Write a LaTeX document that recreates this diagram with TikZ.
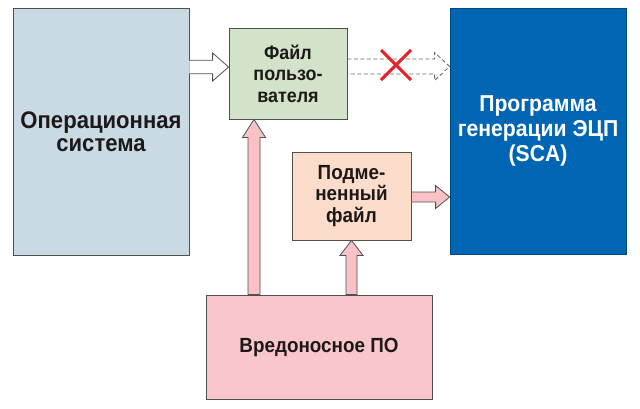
\documentclass[tikz,border=0pt]{standalone}
\usepackage{fontspec}
\setmainfont{Liberation Sans}[FakeStretch=0.92]
\usetikzlibrary{calc,shapes.misc}
\definecolor{osfill}{RGB}{201,218,228}
\definecolor{filefill}{RGB}{211,227,201}
\definecolor{scafill}{RGB}{0,101,178}
\definecolor{subfill}{RGB}{252,221,204}
\definecolor{malfill}{RGB}{248,198,203}
\definecolor{arrfill}{RGB}{248,194,198}
\definecolor{edge}{RGB}{80,80,80}
\definecolor{txt}{RGB}{30,25,25}
\definecolor{xred}{RGB}{232,32,42}
\tikzset{
  box/.style={draw=edge, line width=0.8pt, rectangle, inner sep=0pt, align=center, text=txt},
  pinkarrow/.style={draw=edge, line width=0.8pt, fill=arrfill, line join=miter},
  hollowarrow/.style={draw=edge, line width=0.8pt, fill=white},
  dasharrow/.style={draw=gray!80!black, line width=0.8pt, dash pattern=on 4pt off 2.5pt},
}
\begin{document}
\begin{tikzpicture}[x=1pt,y=-1pt]
\fill[white] (0,0) rectangle (640,408);
\useasboundingbox (0,0) rectangle (640,408);
% boxes
\node[box, fill=osfill, minimum width=176pt, minimum height=247pt,
      font=\bfseries\fontsize{24}{23}\selectfont] (os) at (101,131.5) {Операционная\\система};
\node[box, fill=filefill, minimum width=118pt, minimum height=91pt,
      font=\bfseries\fontsize{19.5}{21.5}\selectfont] (file) at (288,73.5) {Файл\\пользо-\\вателя};
\node[box, draw=scafill!70!black, fill=scafill, text=white, minimum width=176pt, minimum height=246pt,
      font=\bfseries\fontsize{23}{25}\selectfont] (sca) at (538,131) {Программа\\генерации ЭЦП\\(SCA)};
\node[box, fill=subfill, minimum width=119pt, minimum height=88pt,
      font=\bfseries\fontsize{20.5}{21.5}\selectfont] (sub) at (351.5,196) {Подме-\\ненный\\файл};
\node[box, fill=malfill, minimum width=226pt, minimum height=104pt,
      font=\bfseries\fontsize{20.5}{24}\selectfont] (mal) at (319,347) {Вредоносное ПО};
% arrow end points
\coordinate (h1s) at (os.east |- 0,67);
\coordinate (h1t) at (file.west |- 0,67);
\coordinate (d1s) at (file.east |- 0,66.5);
\coordinate (d1t) at (sca.west |- 0,66.5);
\coordinate (p1s) at (sub.east |- 0,197);
\coordinate (p1t) at (sca.west |- 0,197);
\coordinate (u1s) at (mal.north -| 254,0);
\coordinate (u1t) at (file.south -| 254,0);
\coordinate (u2s) at (mal.north -| 351.5,0);
\coordinate (u2t) at (sub.south -| 351.5,0);
% hollow arrow OS -> file
\draw[hollowarrow] (h1s) ++(0,-6.75) -- ($(h1t)+(-16,-6.75)$) -- ($(h1t)+(-16,-14)$) -- (h1t)
  -- ($(h1t)+(-16,14)$) -- ($(h1t)+(-16,6.75)$) -- ($(h1s)+(0,6.75)$);
% dashed arrow file -> SCA
\draw[dasharrow] ($(d1s)+(0,-7.5)$) -- ($(d1t)+(-15,-7.5)$) -- ($(d1t)+(-15,-14)$) -- (d1t)
  -- ($(d1t)+(-15,14)$) -- ($(d1t)+(-15,7.5)$) -- ($(d1s)+(0,7.5)$);
\node[cross out, draw=xred, line width=3pt, minimum size=27pt, inner sep=0pt] (cross) at (396,65) {};
% pink arrow sub -> SCA
\draw[pinkarrow] (p1s) ++(0,-5) -- ($(p1t)+(-14,-5)$) -- ($(p1t)+(-14,-11.5)$) -- (p1t)
  -- ($(p1t)+(-14,11.5)$) -- ($(p1t)+(-14,5)$) -- ($(p1s)+(0,5)$) -- cycle;
% up arrow mal -> file
\draw[pinkarrow] (u1s) ++(-6,0) -- ($(u1t)+(-6,18)$) -- ($(u1t)+(-11.5,18)$) -- (u1t)
  -- ($(u1t)+(11.5,18)$) -- ($(u1t)+(6,18)$) -- ($(u1s)+(6,0)$) -- cycle;
% up arrow mal -> sub
\draw[pinkarrow] (u2s) ++(-5.5,0) -- ($(u2t)+(-5.5,15)$) -- ($(u2t)+(-11.5,15)$) -- (u2t)
  -- ($(u2t)+(11.5,15)$) -- ($(u2t)+(5.5,15)$) -- ($(u2s)+(5.5,0)$) -- cycle;
\end{tikzpicture}
\end{document}
